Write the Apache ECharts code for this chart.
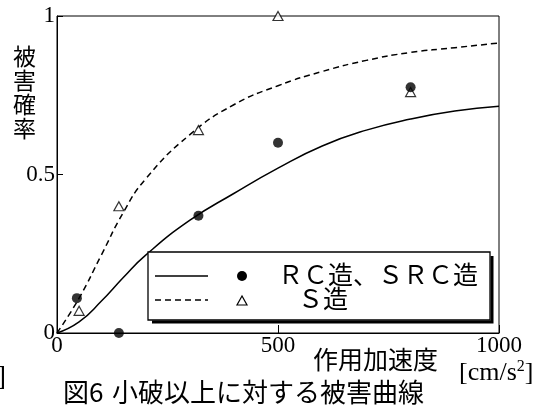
<!DOCTYPE html>
<html><head><meta charset="utf-8">
<script src="https://cdn.jsdelivr.net/npm/echarts@6/dist/echarts.min.js"></script>
<style>html,body{margin:0;padding:0;background:#fff}#c{width:550px;height:411px}</style>
</head><body><div id="c"></div>
<script>
// fitted curves
const curveX  = [0, 50, 100, 150, 200, 300, 400, 500, 600, 700, 800, 900, 1000];
const rcCurve = [0, 0.035, 0.10, 0.175, 0.245, 0.355, 0.44, 0.52, 0.59, 0.64, 0.675, 0.70, 0.715];
const sCurve  = [0, 0.11, 0.245, 0.38, 0.485, 0.625, 0.72, 0.78, 0.825, 0.86, 0.885, 0.90, 0.915];
// observed points
const rcPointsX = [45, 140, 320, 500, 800];
const rcPointsY = [0.11, 0, 0.37, 0.60, 0.775];
const sPointsX  = [50, 140, 320, 500, 800];
const sPointsY  = [0.07, 0.40, 0.64, 1.0, 0.76];
// axes
const xMin = 0, xMax = 1000, xStep = 500;
const yMin = 0, yMax = 1, yStep = 0.5;
const xTickLabels = {0: '0', 500: '500', 1000: '1000'};
const yTickLabels = {0: '0', 0.5: '0.5', 1: '1'};
// texts
const yTitle = '被害確率';
const xTitle = '作用加速度';
const captionNo = '図6';
const captionText = '小破以上に対する被害曲線';
const legendRC = 'ＲＣ造、ＳＲＣ造';
const legendS = 'Ｓ造';

const zip = (xs, ys) => xs.map((x, i) => [x, ys[i]]);
const serif = 'Liberation Serif';
const jp = 'Noto Sans CJK JP';

const chart = echarts.init(document.getElementById('c'));
chart.setOption({
  animation: false,
  backgroundColor: '#fff',
  grid: { left: 57, right: 51, top: 16, bottom: 78, show: true, borderColor: '#000', borderWidth: 1 },
  xAxis: {
    type: 'value', min: xMin, max: xMax, interval: xStep,
    axisLine: { lineStyle: { color: '#000', width: 1 } },
    axisTick: { inside: true, length: 8, lineStyle: { color: '#000' } },
    splitLine: { show: false },
    axisLabel: { color: '#000', fontFamily: serif, fontSize: 23, margin: 1,
      formatter: v => xTickLabels[v] !== undefined ? xTickLabels[v] : '' }
  },
  yAxis: {
    type: 'value', min: yMin, max: yMax, interval: yStep,
    axisLine: { show: true, lineStyle: { color: '#000', width: 1 } },
    axisTick: { show: true, inside: true, length: 6, lineStyle: { color: '#000' } },
    splitLine: { show: false },
    axisLabel: { color: '#000', fontFamily: serif, fontSize: 23, margin: 2,
      formatter: v => yTickLabels[v] !== undefined ? yTickLabels[v] : '' }
  },
  series: [
    { type: 'line', data: zip(curveX, rcCurve), smooth: true, symbol: 'none',
      lineStyle: { color: '#000', width: 1.5 }, z: 2 },
    { type: 'line', data: zip(curveX, sCurve), smooth: true, symbol: 'none',
      lineStyle: { color: '#000', width: 1.5, type: [6, 4] }, z: 2 },
    { type: 'scatter', data: zip(sPointsX, sPointsY), symbol: 'triangle', symbolSize: [10, 9],
      clip: false, itemStyle: { color: '#fff', borderColor: '#000', borderWidth: 1.2 }, z: 3 },
    { type: 'scatter', data: zip(rcPointsX, rcPointsY), symbol: 'circle', symbolSize: 10,
      clip: false, itemStyle: { color: '#000' }, z: 4 }
  ],
  graphic: [
    { type: 'text', left: 13, top: 44, z: 10,
      style: { text: yTitle.split('').join('\n'), font: '23px "' + jp + '"', lineHeight: 24, fill: '#000' } },
    { type: 'text', left: 313, top: 347, z: 10,
      style: { text: xTitle, font: '25px "' + jp + '"', fill: '#000' } },
    { type: 'text', left: 459, top: 359, z: 10,
      style: { text: '[cm/s{sup|2}]', font: '26px "' + serif + '"', fill: '#000',
        rich: { sup: { fontSize: 16, fontFamily: serif, verticalAlign: 'top', padding: [0, 0, 12, 0] } } } },
    { type: 'text', left: 63, top: 379, z: 10,
      style: { text: captionNo, font: '26px "' + jp + '"', fill: '#000' } },
    { type: 'text', left: 112, top: 379, z: 10,
      style: { text: captionText, font: '26px "' + jp + '"', fill: '#000' } },
    { type: 'text', left: -3, top: 364, z: 10,
      style: { text: ']', font: '27px "' + serif + '"', fill: '#000' } },
    // legend box with shadow
    { type: 'polyline', z: 20, shape: { points: [[492, 256], [492, 322], [152, 322]] },
      style: { stroke: '#000', lineWidth: 3, fill: null } },
    { type: 'rect', z: 21, shape: { x: 148, y: 252, width: 342, height: 68 },
      style: { fill: '#fff', stroke: '#000', lineWidth: 1.3 } },
    { type: 'line', z: 22, shape: { x1: 155, y1: 276, x2: 208, y2: 276 },
      style: { stroke: '#000', lineWidth: 1.5 } },
    { type: 'line', z: 22, shape: { x1: 155, y1: 300, x2: 208, y2: 300 },
      style: { stroke: '#000', lineWidth: 1.5, lineDash: [6, 4] } },
    { type: 'circle', z: 22, shape: { cx: 242, cy: 276, r: 5 }, style: { fill: '#000' } },
    { type: 'polygon', z: 22, shape: { points: [[242, 296], [237, 305], [247, 305]] },
      style: { fill: '#fff', stroke: '#000', lineWidth: 1.2 } },
    { type: 'text', z: 22, left: 278, top: 262,
      style: { text: legendRC, font: '25px "' + jp + '"', fill: '#000' } },
    { type: 'text', z: 22, left: 298, top: 286,
      style: { text: legendS, font: '25px "' + jp + '"', fill: '#000' } }
  ]
});
</script></body></html>
